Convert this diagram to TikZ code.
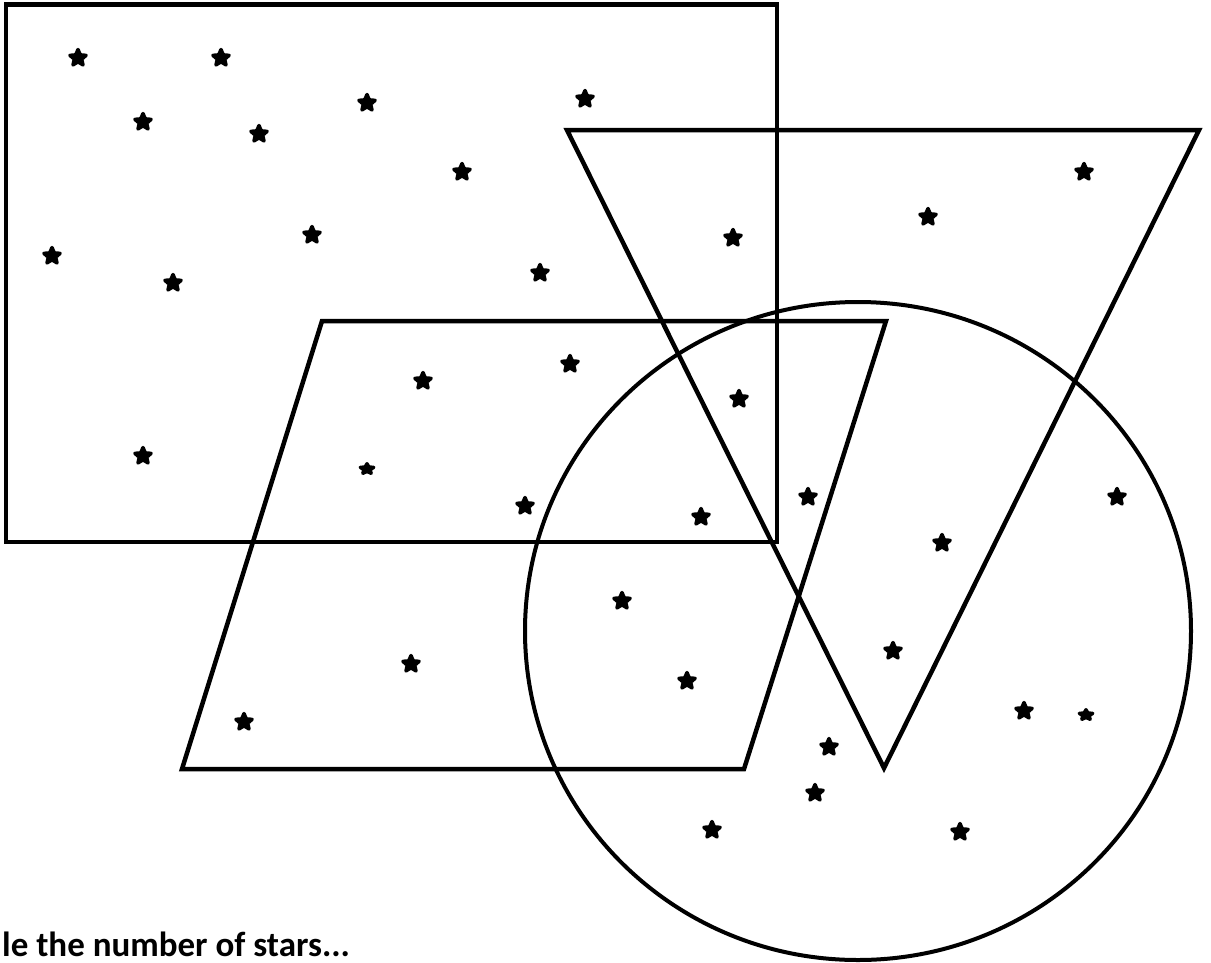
\documentclass[tikz,border=0pt]{standalone}
\usepackage{fontspec}
\setmainfont{Carlito}
\usetikzlibrary{shapes.geometric}
\tikzset{
  forma/.style={line width=4.5pt, line join=miter},
  stella/.style={star, star points=5, star point ratio=2.2, minimum size=17pt,
    inner sep=0pt, fill=black, draw=black, line width=3.5pt, line join=round},
  stellina/.style={stella, minimum size=14pt, yscale=0.75}
}
\begin{document}
\begin{tikzpicture}[x=1pt,y=-1pt]
    \useasboundingbox (0,0) rectangle (1211,962);
    % Forme
    \draw [forma] (6,4.5) rectangle (777,542);
    \draw [forma] (567,130) -- (1199,130) -- (884,768) -- cycle;
    \draw [forma] (322,321) -- (886,321) -- (744,769) -- (182,769) -- cycle;
    \draw [forma, line width=4pt] (858,631) ellipse (333 and 329);
    % Stelle
    \foreach \x/\y [count=\i] in {78/58, 221/58, 143/122, 367/103, 259/134, 585/99,
        462/172, 1084/172, 928/217, 733/238, 312/235, 52/256, 173/283, 540/273,
        570/364, 423/381, 739/399, 143/456, 525/506, 701/517, 808/497, 1117/497,
        942/543, 622/601, 411/664, 687/681, 893/651, 244/722, 1024/711,
        829/747, 815/793, 712/830, 960/832}
      \node [stella] (s\i) at (\x,\y) {};
    \node [stellina] (p1) at (367,469) {};
    \node [stellina] (p2) at (1086,715) {};
    % Testo
    \node [anchor=base west, inner sep=0pt, font=\fontsize{35}{38}\selectfont\bfseries]
      (testo) at (2,956) {le the number of stars...};
\end{tikzpicture}
\end{document}
